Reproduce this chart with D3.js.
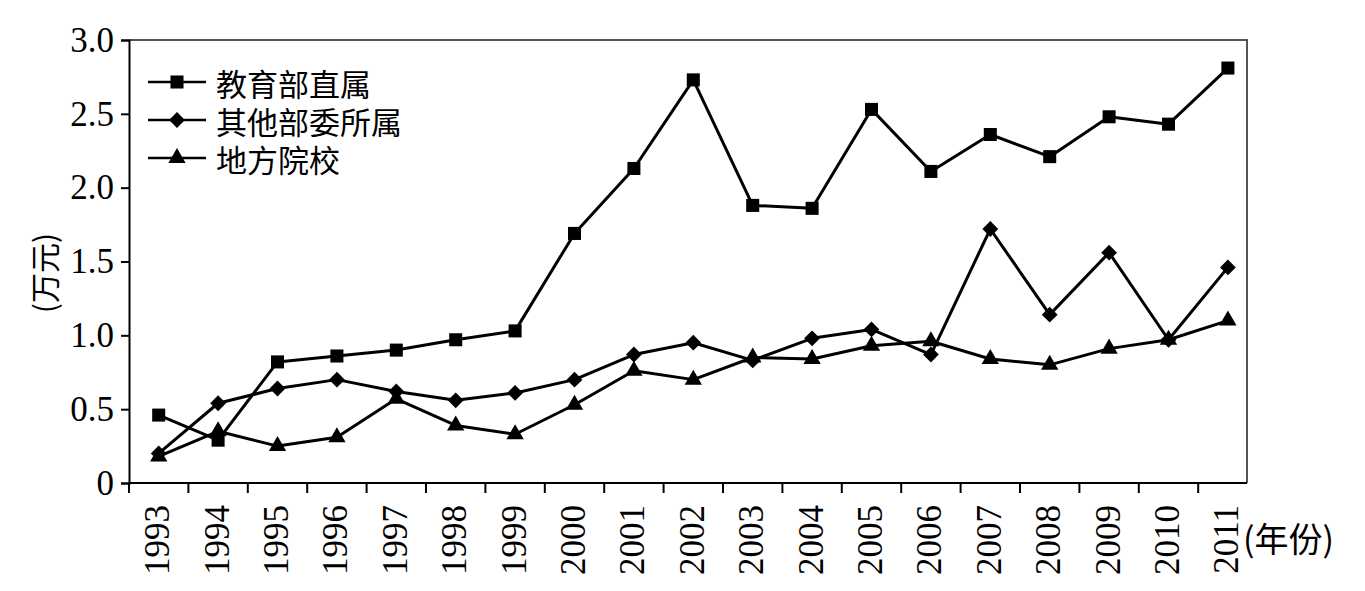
<!DOCTYPE html>
<html>
<head>
<meta charset="utf-8">
<script src="https://cdn.jsdelivr.net/npm/d3@7"></script>
<style>
  body { margin: 0; background: #fff; }
  svg { display: block; }
  .num { font-family: "Liberation Serif", "DejaVu Serif", serif; }
  .cjk { font-family: "Noto Sans CJK SC", sans-serif; }
</style>
</head>
<body>
<div id="chart"></div>
<script>
// data
var years = ["1993", "1994", "1995", "1996", "1997", "1998", "1999", "2000", "2001", "2002",
  "2003", "2004", "2005", "2006", "2007", "2008", "2009", "2010", "2011"];
var seriesNames = ["教育部直属", "其他部委所属", "地方院校"];
var jiaoyubu = [0.46, 0.29, 0.82, 0.86, 0.90, 0.97, 1.03, 1.69, 2.13, 2.73,
  1.88, 1.86, 2.53, 2.11, 2.36, 2.21, 2.48, 2.43, 2.81];
var qitabuwei = [0.20, 0.54, 0.64, 0.70, 0.62, 0.56, 0.61, 0.70, 0.87, 0.95,
  0.83, 0.98, 1.04, 0.87, 1.72, 1.14, 1.56, 0.97, 1.46];
var difang = [0.18, 0.35, 0.25, 0.31, 0.57, 0.39, 0.33, 0.53, 0.76, 0.70,
  0.85, 0.84, 0.93, 0.96, 0.84, 0.80, 0.91, 0.97, 1.10];
var yTicks = [0, 0.5, 1.0, 1.5, 2.0, 2.5, 3.0];

var svgWidth = 1365;
var svgHeight = 591;

// plot box
var plotLeft = 129, plotTop = 40, plotRight = 1247, plotBottom = 483;
var step = 59.4;

var svg = d3.select("#chart")
  .append("svg")
  .attr("width", svgWidth)
  .attr("height", svgHeight);

var x = d3.scaleBand()
  .domain(years)
  .range([plotLeft, plotLeft + step * years.length]);

var y = d3.scaleLinear()
  .domain([0, 3])
  .range([plotBottom, plotTop]);

// frame (top + right)
svg.append("path")
  .attr("d", `M${plotLeft},${plotTop}H${plotRight}V${plotBottom}`)
  .attr("fill", "none")
  .attr("stroke", "#555")
  .attr("stroke-width", 2);

// y axis
var yAxis = svg.append("g")
  .attr("transform", `translate(${plotLeft},0)`)
  .call(d3.axisLeft(y).tickValues(yTicks).tickSize(8).tickPadding(7)
    .tickFormat(d => d === 0 ? "0" : d3.format(".1f")(d)));
yAxis.attr("font-family", null).attr("font-size", null);
yAxis.select(".domain").attr("stroke", "#000").attr("stroke-width", 2);
yAxis.selectAll(".tick line").attr("stroke", "#000").attr("stroke-width", 2);
yAxis.selectAll(".tick text")
  .attr("class", "num")
  .style("font-size", "35px")
  .attr("fill", "#000");

// x axis: ticks on band boundaries
var xg = svg.append("g");
xg.append("line")
  .attr("x1", plotLeft).attr("x2", plotRight)
  .attr("y1", plotBottom).attr("y2", plotBottom)
  .attr("stroke", "#000").attr("stroke-width", 2);
xg.selectAll(".xtick")
  .data(years)
  .enter()
  .append("line")
  .attr("class", "xtick")
  .attr("x1", d => x(d)).attr("x2", d => x(d))
  .attr("y1", plotBottom).attr("y2", plotBottom + 10)
  .attr("stroke", "#000").attr("stroke-width", 2);

xg.selectAll(".xlabel")
  .data(years)
  .enter()
  .append("text")
  .attr("class", "num")
  .attr("transform", d => `translate(${x(d) + x.bandwidth() / 2 - 1}, 505) rotate(-90)`)
  .attr("text-anchor", "end")
  .attr("dominant-baseline", "central")
  .style("font-size", "35px")
  .attr("fill", "#000")
  .text(d => d);

// axis titles
svg.append("text")
  .attr("class", "cjk")
  .attr("transform", "translate(43, 273) rotate(-90)")
  .attr("text-anchor", "middle")
  .attr("dominant-baseline", "central")
  .style("font-size", "30px")
  .attr("fill", "#000")
  .text("(万元)");

svg.append("text")
  .attr("class", "cjk")
  .attr("x", 1243)
  .attr("y", 537)
  .attr("dominant-baseline", "central")
  .style("font-size", "34px")
  .attr("fill", "#000")
  .text("(年份)");

// lines + markers (diamond = square turned 45deg)
var symbols = [d3.symbolSquare, d3.symbolSquare, d3.symbolTriangle];
var symbolSizes = [170, 125, 130];
var symbolRotate = [0, 45, 0];
var allSeries = [jiaoyubu, qitabuwei, difang];

var line = d3.line()
  .x((d, i) => x(years[i]) + x.bandwidth() / 2)
  .y(d => y(d));

allSeries.forEach(function(vals, s) {
  svg.append("path")
    .datum(vals)
    .attr("d", line)
    .attr("fill", "none")
    .attr("stroke", "#000")
    .attr("stroke-width", 3)
    .attr("stroke-linejoin", "round");

  svg.selectAll(".m" + s)
    .data(vals)
    .enter()
    .append("path")
    .attr("class", "m" + s)
    .attr("transform", (d, i) => `translate(${x(years[i]) + x.bandwidth() / 2}, ${y(d)}) rotate(${symbolRotate[s]})`)
    .attr("d", d3.symbol().type(symbols[s]).size(symbolSizes[s]))
    .attr("fill", "#000");
});

// legend
var legendRows = [82, 120, 158];
seriesNames.forEach(function(name, s) {
  var g = svg.append("g").attr("transform", `translate(0, ${legendRows[s]})`);
  g.append("line")
    .attr("x1", 148).attr("x2", 206)
    .attr("y1", 0).attr("y2", 0)
    .attr("stroke", "#000").attr("stroke-width", 2.5);
  g.append("path")
    .attr("transform", `translate(177, 0) rotate(${symbolRotate[s]})`)
    .attr("d", d3.symbol().type(symbols[s]).size(symbolSizes[s]))
    .attr("fill", "#000");
  g.append("text")
    .attr("class", "cjk")
    .attr("x", 216)
    .attr("y", 0)
    .attr("dominant-baseline", "central")
    .style("font-size", "31px")
    .attr("fill", "#000")
    .text(name);
});
</script>
</body>
</html>
